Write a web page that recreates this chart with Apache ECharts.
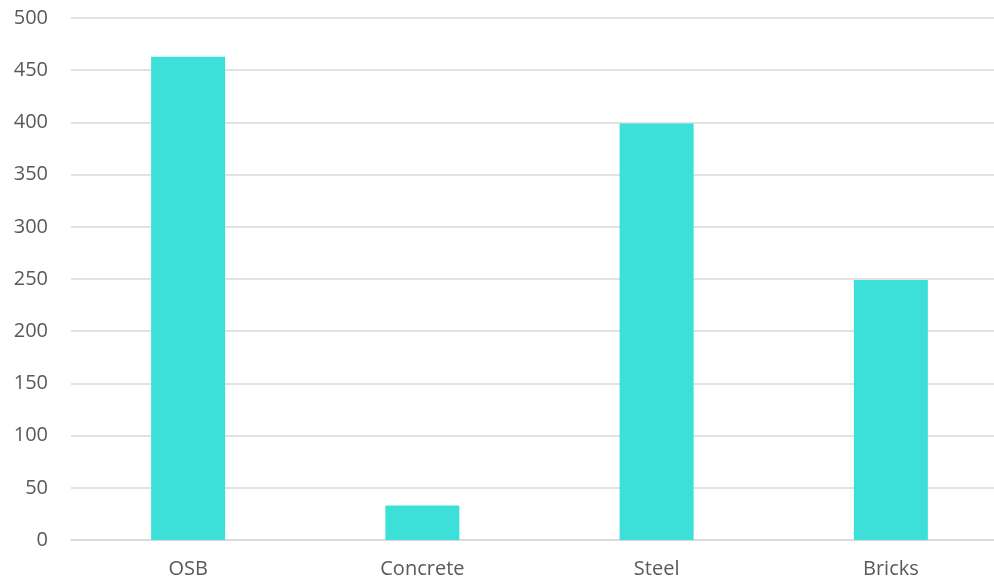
<!DOCTYPE html>
<html>
<head>
<meta charset="utf-8">
<script src="https://cdn.jsdelivr.net/npm/echarts@6/dist/echarts.min.js"></script>
<style>
  html, body { margin: 0; padding: 0; background: #fff; }
  #chart { width: 994px; height: 584px; }
</style>
</head>
<body>
<div id="chart"></div>
<script>
// materials and their values
const categories = ["OSB", "Concrete", "Steel", "Bricks"];
const values = [463, 33, 399, 249];

const chart = echarts.init(document.getElementById("chart"));
const options = {
  animation: false,
  grid: {
    left: 71,
    width: 937, // plot runs past the right edge, as in the source
    top: 18,
    bottom: 44,
    outerBoundsMode: "none",
  },
  xAxis: {
    type: "category",
    data: categories,
    axisLine: { lineStyle: { color: "#d9d9d9", width: 1.5 } },
    axisTick: { show: false },
    axisLabel: {
      color: "#595959",
      fontSize: 20,
      fontFamily: "Open Sans",
      margin: 19,
    },
  },
  yAxis: {
    type: "value",
    min: 0,
    max: 500,
    interval: 50,
    axisLine: { show: false },
    axisTick: { show: false },
    splitLine: { lineStyle: { color: "#d9d9d9", width: 1.5 } },
    axisLabel: {
      color: "#595959",
      fontSize: 20,
      fontFamily: "Open Sans",
      margin: 23,
      padding: [8, 0, 0, 0],
    },
  },
  series: [
    {
      type: "bar",
      data: values,
      barWidth: 74,
      itemStyle: { color: "#3ce0d9" },
    },
  ],
};
chart.setOption(options);
</script>
</body>
</html>
